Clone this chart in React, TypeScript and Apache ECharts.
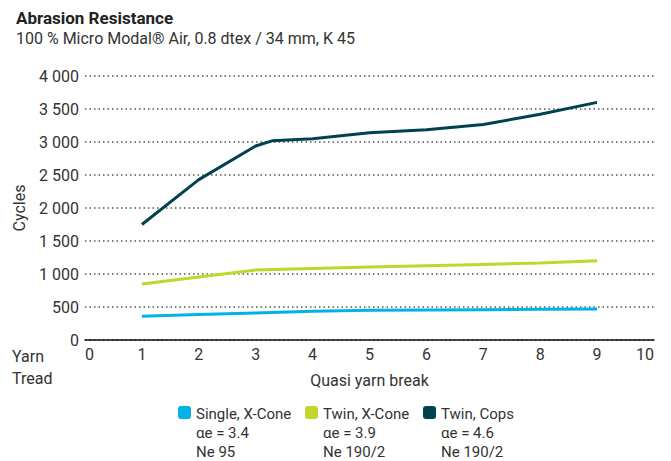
import React, { useEffect, useRef } from "react";
import * as echarts from "echarts";

const titleText = "Abrasion Resistance";
const subtitleText = "100 % Micro Modal® Air, 0.8 dtex / 34 mm, K 45";
const xName = "Quasi yarn break";
const yName = "Cycles";
const cornerLabel = "Yarn\nTread";

const seriesNames = ["Single, X-Cone", "Twin, X-Cone", "Twin, Cops"];
const seriesDetails = ["αe = 3.4\nNe 95", "αe = 3.9\nNe 190/2", "αe = 4.6\nNe 190/2"];
const seriesColors = ["#00b2e8", "#c2d62e", "#00434f"];

const singleXCone: [number, number][] = [
  [1, 360], [2, 385], [3, 410], [4, 435], [5, 450], [6, 455], [7, 460], [8, 465], [9, 470],
];
const twinXCone: [number, number][] = [
  [1, 850], [2, 955], [3, 1060], [4, 1085], [5, 1105], [6, 1125], [7, 1145], [8, 1165], [9, 1200],
];
const twinCops: [number, number][] = [
  [1, 1750], [2, 2430], [3, 2940], [3.3, 3020], [4, 3050], [5, 3140], [6, 3185], [7, 3265], [8, 3420], [9, 3600],
];

const FONT = "Roboto, 'Noto Sans', sans-serif";

function fmtThousands(v: number): string {
  if (v >= 1000) {
    const th = Math.floor(v / 1000);
    const rest = String(v % 1000).padStart(3, "0");
    return `${th} ${rest}`;
  }
  return String(v);
}

export default function App() {
  const ref = useRef<HTMLDivElement>(null);
  useEffect(() => {
    document.body.style.margin = "0";
    if (!ref.current) return;
    const chart = echarts.init(ref.current, undefined, { renderer: "svg" });
    const data = [singleXCone, twinXCone, twinCops];
    const legendX = [178, 305, 423];
    const legendY = 406;
    const graphic: any[] = [];
    seriesNames.forEach((name, i) => {
      graphic.push({
        type: "rect",
        left: legendX[i],
        top: legendY,
        shape: { width: 13, height: 13, r: 3 },
        style: { fill: seriesColors[i] },
      });
      graphic.push({
        type: "text",
        left: legendX[i] + 18,
        top: legendY - 2,
        style: {
          text: name + "\n" + seriesDetails[i],
          font: `15px ${FONT}`,
          fill: "#333",
          lineHeight: 19,
        },
      });
    });
    graphic.push({
      type: "text",
      left: 12,
      top: 345,
      style: { text: cornerLabel, font: `16px ${FONT}`, fill: "#333", lineHeight: 22 },
    });
    chart.setOption({
      animation: false,
      backgroundColor: "#fff",
      title: {
        text: titleText,
        subtext: subtitleText,
        left: 11,
        top: 4,
        itemGap: 4,
        textStyle: { fontFamily: FONT, fontSize: 17, fontWeight: "bold", color: "#222" },
        subtextStyle: { fontFamily: FONT, fontSize: 16, color: "#333" },
      },
      grid: { left: 85, right: 17, top: 76, bottom: 121, containLabel: false },
      xAxis: {
        type: "value",
        min: 0,
        max: 10,
        interval: 1,
        name: xName,
        nameLocation: "middle",
        nameGap: 32,
        nameTextStyle: { fontFamily: FONT, fontSize: 16, color: "#333" },
        axisLine: { show: true, lineStyle: { color: "#111", width: 1.5 } },
        axisTick: { show: false },
        splitLine: { show: false },
        axisLabel: {
          fontFamily: FONT,
          fontSize: 16,
          color: "#333",
          margin: 6,
          alignMinLabel: "left",
          alignMaxLabel: "right",
        },
      },
      yAxis: {
        type: "value",
        min: 0,
        max: 4000,
        interval: 500,
        name: yName,
        nameLocation: "middle",
        nameRotate: 90,
        nameGap: 58,
        nameTextStyle: { fontFamily: FONT, fontSize: 16, color: "#333" },
        axisLine: { show: false },
        axisTick: { show: false },
        splitLine: { show: true, lineStyle: { color: "#555", type: [1.5, 3], width: 1.5 } },
        axisLabel: {
          fontFamily: FONT,
          fontSize: 16,
          color: "#333",
          margin: 6,
          formatter: (v: number) => fmtThousands(v),
        },
      },
      series: seriesNames.map((name, i) => ({
        name,
        type: "line",
        data: data[i],
        showSymbol: false,
        symbol: "none",
        lineStyle: { color: seriesColors[i], width: 3 },
        itemStyle: { color: seriesColors[i] },
        z: 3,
      })),
      graphic,
    });
    return () => chart.dispose();
  }, []);
  return <div ref={ref} style={{ width: 671, height: 461 }} />;
}
